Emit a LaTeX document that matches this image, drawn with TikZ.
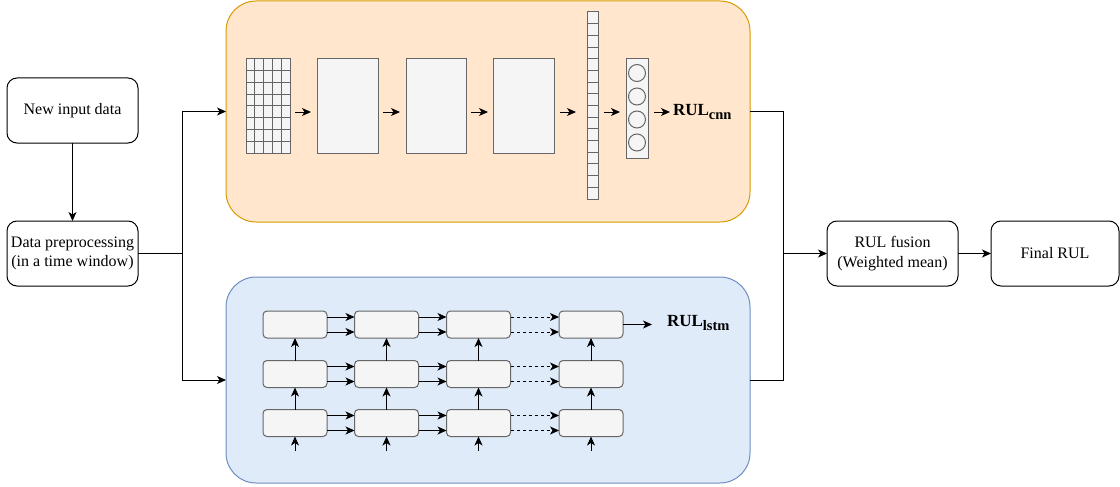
\documentclass[tikz,border=0pt]{standalone}
\usepackage{fontspec}
\setmainfont{Liberation Serif}
\usetikzlibrary{arrows.meta,calc}
\definecolor{orfill}{HTML}{FFE6CC}
\definecolor{ordraw}{HTML}{D79B00}
\definecolor{blfill}{HTML}{E0EBFA}
\definecolor{bldraw}{HTML}{6C8EBF}
\definecolor{cellfill}{HTML}{F5F5F5}
\definecolor{celldraw}{HTML}{666666}
\begin{document}
\begin{tikzpicture}[x=1pt,y=-1pt,
 every node/.style={inner sep=0pt, outer sep=0pt},
 flow/.style={rounded corners=10pt, draw=black, line width=1pt, fill=white, minimum width=131pt, minimum height=65pt, align=center, font=\fontsize{16}{19.5}\selectfont},
 panel/.style={rounded corners=30pt, line width=1pt, minimum width=524pt},
 cell/.style={draw=celldraw, fill=cellfill, line width=1pt},
 lcell/.style={cell, rounded corners=4pt, minimum width=64pt, minimum height=27pt},
 arr/.style={-{Stealth[length=9pt,width=8pt,inset=2.5pt]}, line width=1pt},
 rul/.style={anchor=west, font=\bfseries\fontsize{17}{17}\selectfont},
 ]
\useasboundingbox (0,0) rectangle (1120,487);

% panels
\node[panel, draw=ordraw, fill=orfill, minimum height=221pt] (cnn) at (488,111.5) {};
\node[panel, draw=bldraw, fill=blfill, minimum height=206pt] (lstm) at (488,380) {};

% flow boxes
\node[flow] (inp) at (72.5,110.5) {New input data};
\node[flow] (pre) at (72.5,253.5) {Data preprocessing\\(in a time window)};
\node[flow] (fus) at (892.5,253.5) {RUL fusion\\(Weighted mean)};
\node[flow, minimum width=128pt] (fin) at (1055,253.5) {Final RUL};

\draw[arr] (inp) -- (pre);
\coordinate (split) at (182,253.5);
\draw[line width=1pt] (pre.east) -- (split);
\draw[arr] (split) |- (cnn.west);
\draw[arr] (split) |- (lstm.west);
\coordinate (merge) at (783,253.5);
\draw[line width=1pt] (cnn.east) -| (merge);
\draw[line width=1pt] (lstm.east) -| (merge);
\draw[arr] (merge) -- (fus.west);
\draw[arr] (fus) -- (fin);

% CNN internals
\node[cell, minimum width=44pt, minimum height=94pt] (g) at (268,106) {};
\foreach \i in {1,...,4}
  \draw[celldraw, line width=1pt] ($(g.north west)+(\i*8.8,0)$) -- ($(g.south west)+(\i*8.8,0)$);
\foreach \j in {1,...,7}
  \draw[celldraw, line width=1pt] ($(g.north west)+(0,\j*11.75)$) -- ($(g.north east)+(0,\j*11.75)$);
\node[cell, minimum width=61pt, minimum height=94pt] (f1) at (347.5,106) {};
\node[cell, minimum width=60pt, minimum height=94pt] (f2) at (436,106) {};
\node[cell, minimum width=61pt, minimum height=94pt] (f3) at (523.5,106) {};
\node[cell, minimum width=11pt, minimum height=187pt] (col) at (592.5,105.5) {};
\foreach \j in {1,...,15}
  \draw[celldraw, line width=1pt] ($(col.north west)+(0,\j*11.6875)$) -- ($(col.north east)+(0,\j*11.6875)$);
\node[cell, minimum width=22pt, minimum height=99pt] (cb) at (637,108.5) {};
\foreach \y [count=\k] in {73,96.5,119.5,142.5}
  \node[draw=celldraw, fill=cellfill, line width=1pt, circle, minimum size=17pt] (c\k) at (637,\y) {};

\draw[arr] ($(g.east)+(5,6)$) -- ++(16,0);
\draw[arr] ($(f1.east)+(5,6)$) -- ++(17,0);
\draw[arr] ($(f2.east)+(5,6)$) -- ++(17,0);
\draw[arr] ($(f3.east)+(6,6)$) -- ++(16,0);
\draw[arr] ($(col.east)+(6,6.5)$) -- ++(16,0);
\coordinate (cnnout) at (670,112);
\draw[arr] (cb.east |- cnnout) ++(6,0) -- (cnnout);
\node[rul] (rulc) at (673,112) {RUL\raisebox{-4pt}{\fontsize{14.5}{14.5}\selectfont cnn}};

% LSTM internals
\foreach \r/\y in {1/324.5,2/374,3/423}
  \foreach \c/\x in {1/295,2/386.5,3/478.5,4/591}
    \node[lcell] (l\r\c) at (\x,\y) {};
\foreach \r in {1,2,3}{
  \foreach \c/\d in {1/2,2/3}{
    \draw[arr] ($(l\r\c.east)+(0,-7.5)$) -- ($(l\r\d.west)+(0,-7.5)$);
    \draw[arr] ($(l\r\c.east)+(0,7.5)$) -- ($(l\r\d.west)+(0,7.5)$);
  }
  \draw[arr, dashed] ($(l\r3.east)+(0,-7.5)$) -- ($(l\r4.west)+(0,-7.5)$);
  \draw[arr, dashed] ($(l\r3.east)+(0,7.5)$) -- ($(l\r4.west)+(0,7.5)$);
}
\foreach \c in {1,2,3,4}{
  \draw[arr] (l2\c.north) -- (l1\c.south);
  \draw[arr] (l3\c.north) -- (l2\c.south);
  \coordinate (in\c) at ($(l3\c.south)+(0,14)$);
  \draw[arr] (in\c) -- (l3\c.south);
}
\coordinate (lstmout) at (652,324.5);
\draw[arr] (l14.east) -- (lstmout);
\node[rul] (rull) at (667,323) {RUL\raisebox{-4pt}{\fontsize{14.5}{14.5}\selectfont lstm}};
\end{tikzpicture}
\end{document}
